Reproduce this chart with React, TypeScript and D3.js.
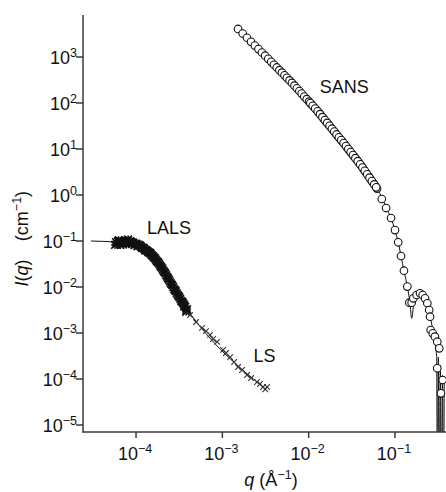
import React from 'react';
import * as d3 from 'd3';

const W = 446;
const H = 492;
const plot = { left: 83, right: 446, top: 15, bottom: 432 };

// axis ticks (decades)
const qTicks = [1e-4, 1e-3, 1e-2, 1e-1];
const iTicks = [1e3, 1e2, 1e1, 1e0, 1e-1, 1e-2, 1e-3, 1e-4, 1e-5];

// LALS data (crosses), two interleaved runs
const lalsQ = [6.0e-5, 6.3e-5, 6.6e-5, 6.9e-5, 7.2e-5, 7.5e-5, 7.8e-5, 8.1e-5, 8.4e-5, 8.7e-5,
  9.0e-5, 9.4e-5, 9.8e-5, 1.02e-4, 1.06e-4, 1.10e-4, 1.15e-4, 1.20e-4, 1.25e-4, 1.30e-4,
  1.36e-4, 1.42e-4, 1.48e-4, 1.55e-4, 1.62e-4, 1.70e-4, 1.78e-4, 1.86e-4, 1.95e-4, 2.04e-4,
  2.14e-4, 2.24e-4, 2.35e-4, 2.46e-4, 2.58e-4, 2.70e-4, 2.83e-4, 2.96e-4, 3.10e-4, 3.25e-4,
  3.40e-4, 3.55e-4, 3.60e-4, 3.72e-4, 3.80e-4, 3.90e-4];
const lalsI = [0.088, 0.104, 0.082, 0.097, 0.090, 0.105, 0.099, 0.108, 0.093, 0.097,
  0.086, 0.090, 0.085, 0.086, 0.080, 0.079, 0.074, 0.071, 0.067, 0.063,
  0.060, 0.056, 0.053, 0.048, 0.0435, 0.039, 0.035, 0.0315, 0.0275, 0.024,
  0.021, 0.018, 0.0155, 0.0132, 0.0114, 0.0099, 0.0085, 0.0074, 0.0064, 0.0055,
  0.0048, 0.0043, 0.0038, 0.0037, 0.0029, 0.0033];
const lalsQ2 = [6.15e-5, 6.45e-5, 6.75e-5, 7.05e-5, 7.35e-5, 7.65e-5, 7.95e-5, 8.25e-5, 8.55e-5, 8.85e-5,
  9.2e-5, 9.6e-5, 1.0e-4, 1.04e-4, 1.08e-4, 1.125e-4, 1.175e-4, 1.225e-4, 1.275e-4, 1.33e-4,
  1.39e-4, 1.45e-4, 1.515e-4, 1.585e-4, 1.66e-4, 1.74e-4, 1.82e-4, 1.905e-4, 1.995e-4, 2.09e-4,
  2.19e-4, 2.295e-4, 2.405e-4, 2.52e-4, 2.64e-4, 2.765e-4, 2.895e-4, 3.03e-4, 3.175e-4, 3.325e-4,
  3.475e-4, 3.65e-4, 3.85e-4, 5.7e-5, 5.85e-5];
const lalsI2 = [0.099, 0.087, 0.101, 0.084, 0.096, 0.088, 0.101, 0.087, 0.099, 0.094,
  0.093, 0.081, 0.088, 0.077, 0.083, 0.079, 0.070, 0.071, 0.063, 0.0625,
  0.057, 0.0555, 0.0495, 0.046, 0.042, 0.0365, 0.034, 0.029, 0.026, 0.0222,
  0.0198, 0.0166, 0.0145, 0.0121, 0.0108, 0.0090, 0.0081, 0.0068, 0.0060, 0.0050,
  0.0046, 0.0040, 0.0031, 0.082, 0.095];

// LS data (crosses)
const lsQ = [4.23e-4, 4.95e-4, 5.82e-4, 6.47e-4, 7.2e-4, 7.8e-4, 8.7e-4, 1.02e-3, 1.10e-3, 1.23e-3,
  1.37e-3, 1.52e-3, 1.69e-3, 1.93e-3, 2.15e-3, 2.52e-3, 2.73e-3, 2.96e-3, 3.14e-3, 3.30e-3];
const lsI = [2.46e-3, 1.73e-3, 1.29e-3, 1.10e-3, 9.1e-4, 7.4e-4, 6.4e-4, 4.3e-4, 3.67e-4, 3.0e-4,
  2.34e-4, 1.82e-4, 1.57e-4, 1.22e-4, 1.05e-4, 8.6e-5, 7.8e-5, 6.7e-5, 6.0e-5, 6.7e-5];

// light scattering fit
const lightFitQ = [3.0e-5, 6.0e-5, 8.5e-5, 1.11e-4, 1.45e-4, 1.9e-4, 2.69e-4, 3.24e-4, 3.9e-4, 2.96e-3];
const lightFitI = [0.100, 0.095, 0.0906, 0.078, 0.055, 0.030, 0.010, 0.0055, 0.0033, 6.7e-5];

// SANS data (open circles)
const sansQ = [1.52e-3, 1.72e-3, 1.93e-3, 2.15e-3, 2.38e-3, 2.62e-3, 2.87e-3, 3.13e-3, 3.40e-3, 3.68e-3,
  3.97e-3, 4.27e-3, 4.58e-3, 4.90e-3, 5.25e-3, 5.60e-3, 6.00e-3, 6.40e-3, 6.85e-3, 7.30e-3,
  7.80e-3, 8.30e-3, 8.90e-3, 9.50e-3, 1.01e-2, 1.08e-2, 1.15e-2, 1.23e-2, 1.31e-2, 1.40e-2,
  1.49e-2, 1.59e-2, 1.69e-2, 1.80e-2, 1.92e-2, 2.04e-2, 2.17e-2, 2.31e-2, 2.46e-2, 2.62e-2,
  2.79e-2, 2.97e-2, 3.16e-2, 3.37e-2, 3.59e-2, 3.82e-2, 4.07e-2, 4.33e-2, 4.61e-2, 4.91e-2,
  5.23e-2, 5.57e-2, 5.93e-2, 6.20e-2, 7.03e-2, 7.89e-2, 9.0e-2, 0.100, 0.109, 0.1175,
  0.127, 0.139, 0.1466, 0.156, 0.163, 0.178, 0.195, 0.209, 0.223, 0.237,
  0.249, 0.255, 0.259, 0.274, 0.290, 0.309, 0.326, 0.309, 0.357, 0.341];
const sansI = [4070, 3240, 2620, 2140, 1770, 1486, 1254, 1067, 912, 785,
  679, 592, 518, 456, 400, 353, 310, 273, 238, 208,
  182, 160, 138, 121, 107, 92.9, 81.5, 70.9, 61.7, 52.9,
  45.9, 39.5, 34.4, 29.7, 25.6, 22.3, 19.3, 16.7, 14.5, 12.5,
  10.7, 9.23, 7.96, 6.82, 5.86, 5.05, 4.30, 3.64, 3.08, 2.59,
  2.19, 1.85, 1.56, 1.38, 0.818, 0.521, 0.316, 0.173, 0.0938, 0.0472,
  0.0226, 0.0102, 0.00456, 0.00456, 0.00568, 0.00670, 0.00730, 0.00670, 0.00568, 0.00443,
  0.00316, 0.00226, 0.00116, 9.84e-4, 8.32e-4, 6.47e-4, 4.65e-4, 1.71e-4, 9.5e-5, 4.89e-5];
// second SANS configuration, overlapping the mid-q range
const sansQ2 = [1.045e-2, 1.115e-2, 1.19e-2, 1.27e-2, 1.355e-2, 1.445e-2, 1.54e-2, 1.64e-2, 1.745e-2, 1.86e-2,
  1.98e-2, 2.105e-2, 2.24e-2, 2.385e-2, 2.54e-2, 2.705e-2, 2.88e-2, 3.065e-2, 3.265e-2, 3.48e-2,
  3.705e-2, 3.945e-2, 4.2e-2, 4.47e-2, 4.76e-2, 5.07e-2, 5.4e-2, 5.75e-2, 6.06e-2];
const sansI2 = [99.7, 87.0, 76.0, 66.1, 57.1, 49.3, 42.6, 36.9, 32.0, 27.6,
  23.9, 20.7, 17.95, 15.6, 13.5, 11.6, 9.94, 8.57, 7.37, 6.32,
  5.44, 4.66, 3.96, 3.35, 2.82, 2.38, 2.01, 1.70, 1.47];

// SANS model fit
const sansFitQ = [1.52e-3, 3.16e-3, 6.31e-3, 1.26e-2, 2.51e-2, 3.98e-2, 6.31e-2, 7.94e-2, 0.100, 0.109,
  0.1175, 0.127, 0.139, 0.149, 0.156, 0.170, 0.185, 0.255, 0.283, 0.304,
  0.310, 0.318, 0.326, 0.335, 0.344, 0.355, 0.364, 0.372];
const sansFitI = [4070, 1047, 282, 67.6, 13.8, 4.57, 1.32, 0.537, 0.173, 0.0938,
  0.0472, 0.0226, 0.0102, 0.00456, 0.00209, 0.0068, 0.0073, 0.00226, 8.3e-4, 3.05e-4,
  1e-7, 3e-4, 1e-7, 2e-4, 1e-7, 1.2e-4, 1e-7, 1e-4];

const labels = [
  { text: 'LALS', q: 1.34e-4, i: 0.142 },
  { text: 'SANS', q: 1.34e-2, i: 165 },
  { text: 'LS', q: 2.29e-3, i: 2.34e-4 },
];

const font = '"Liberation Sans", Arial, Helvetica, sans-serif';
const axisColor = '#3a3a3a';

const x = d3.scaleLog().domain([2.43e-5, 0.39]).range([plot.left, plot.right]);
const y = d3.scaleLog().domain([7.05e-6, 8185]).range([plot.bottom, plot.top]);

const toPts = (qs: number[], is: number[]) => qs.map((q, k) => [q, is[k]] as [number, number]);

const lineGen = d3
  .line<[number, number]>()
  .x(d => x(d[0]))
  .y(d => y(d[1]))
  .curve(d3.curveMonotoneX);

const crossPath = (d: [number, number], s: number) => {
  const cx = x(d[0]);
  const cy = y(d[1]);
  return `M${cx - s},${cy - s}L${cx + s},${cy + s}M${cx - s},${cy + s}L${cx + s},${cy - s}`;
};
const plusPath = (d: [number, number], s: number) => {
  const cx = x(d[0]);
  const cy = y(d[1]);
  return `M${cx - s},${cy}L${cx + s},${cy}M${cx},${cy - s}L${cx},${cy + s}`;
};

const Pow = ({ e }: { e: number }) => (
  <>
    10
    <tspan dy={-7} fontSize={12.5}>
      {e < 0 ? '\u2212' + Math.abs(e) : String(e)}
    </tspan>
  </>
);

const App = () => {
  const lals = [...toPts(lalsQ, lalsI), ...toPts(lalsQ2, lalsI2)];
  const ls = toPts(lsQ, lsI);
  const sans = [...toPts(sansQ, sansI), ...toPts(sansQ2, sansI2)];

  return (
    <svg
      width={W}
      height={H}
      style={{ position: 'absolute', left: 0, top: 0, background: '#fff' }}
      fontFamily={font}
    >
      <defs>
        <clipPath id="plotClip">
          <rect x={plot.left} y={plot.top} width={plot.right - plot.left} height={plot.bottom - plot.top} />
        </clipPath>
      </defs>

      <g clipPath="url(#plotClip)">
        {/* fits */}
        <path d={lineGen(toPts(lightFitQ, lightFitI)) || ''} fill="none" stroke="#111" strokeWidth={1} />
        <path d={lineGen(toPts(sansFitQ, sansFitI)) || ''} fill="none" stroke="#111" strokeWidth={1} />

        {/* light scattering crosses (dense LALS band) */}
        {lals.map((d, k) => (
          <g key={'a' + k}>
            <path d={crossPath(d, 3.8)} stroke="#111" strokeWidth={1.7} />
            <path d={plusPath(d, 4)} stroke="#111" strokeWidth={1.3} />
          </g>
        ))}
        {ls.map((d, k) => (
          <path key={'b' + k} d={crossPath(d, 2.8)} stroke="#333" strokeWidth={1.1} />
        ))}

        {/* SANS circles */}
        {sans.map((d, k) => (
          <circle key={'s' + k} cx={x(d[0])} cy={y(d[1])} r={3.8} fill="#fff" stroke="#111" strokeWidth={1.1} />
        ))}
      </g>

      {/* axes */}
      <line x1={plot.left} x2={plot.left} y1={plot.top} y2={plot.bottom + 0.75} stroke={axisColor} strokeWidth={1.5} />
      <line x1={plot.left} x2={plot.right} y1={plot.bottom} y2={plot.bottom} stroke={axisColor} strokeWidth={1.5} />

      {iTicks.map(t => (
        <g key={'yt' + t}>
          <line x1={plot.left - 7} x2={plot.left} y1={y(t)} y2={y(t)} stroke={axisColor} strokeWidth={1.5} />
          <text x={77} y={y(t) + 6.5} textAnchor="end" fontSize={18} fill="#111">
            <Pow e={Math.round(Math.log10(t))} />
          </text>
        </g>
      ))}

      {qTicks.map(t => (
        <g key={'xt' + t}>
          <line x1={x(t)} x2={x(t)} y1={plot.bottom} y2={plot.bottom + 6} stroke={axisColor} strokeWidth={1.5} />
          <text x={x(t) - 1} y={460} textAnchor="middle" fontSize={18} fill="#111">
            <Pow e={Math.round(Math.log10(t))} />
          </text>
        </g>
      ))}

      {/* axis titles */}
      <text x={271} y={486} textAnchor="middle" fontSize={18} fill="#111">
        <tspan fontStyle="italic">q</tspan> (Å
        <tspan dy={-7} fontSize={12.5}>
          −1
        </tspan>
        <tspan dy={7}>)</tspan>
      </text>
      <text transform="translate(28,273) rotate(-90)" textAnchor="middle" fontSize={18} fill="#111">
        <tspan fontStyle="italic">I</tspan>(<tspan fontStyle="italic">q</tspan>)
      </text>
      <text transform="translate(28,216) rotate(-90)" textAnchor="middle" fontSize={18} fill="#111">
        (cm
        <tspan dy={-7} fontSize={12.5}>
          −1
        </tspan>
        <tspan dy={7}>)</tspan>
      </text>

      {/* series labels */}
      {labels.map(l => (
        <text key={l.text} x={x(l.q)} y={y(l.i)} fontSize={18} fill="#111">
          {l.text}
        </text>
      ))}
    </svg>
  );
};

export default App;
